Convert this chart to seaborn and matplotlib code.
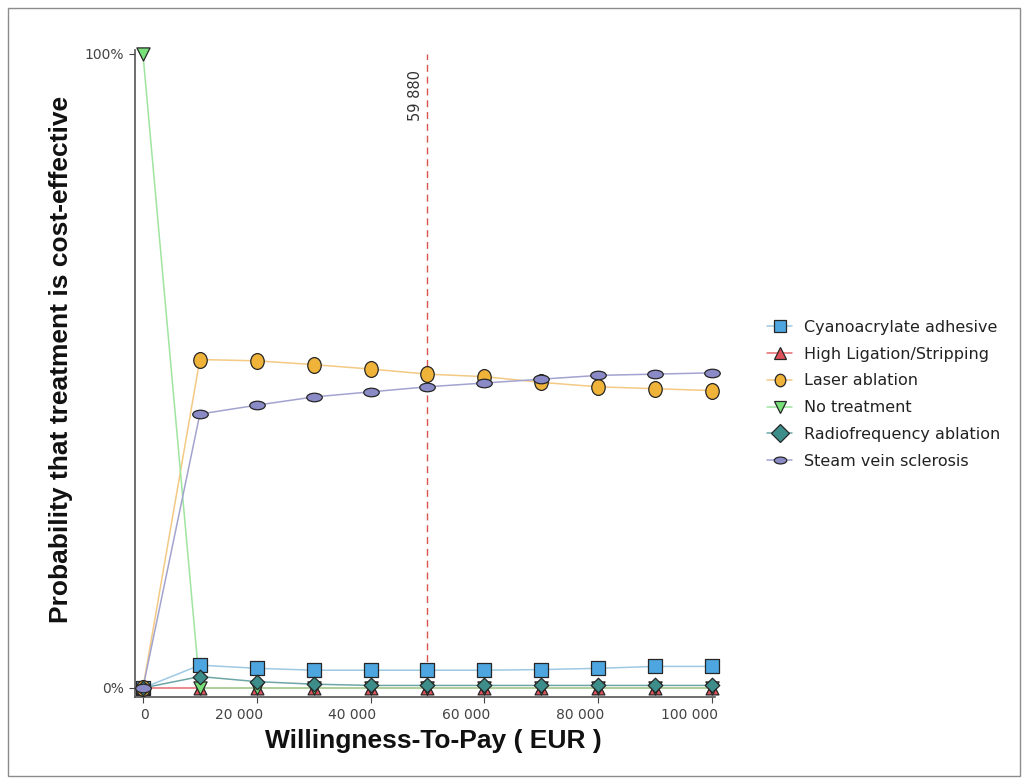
import matplotlib
matplotlib.use("Agg")
import matplotlib.pyplot as plt
import matplotlib.path as mpath
import matplotlib.transforms as mtransforms
from matplotlib.lines import Line2D
from matplotlib.patches import Rectangle
from matplotlib.ticker import FuncFormatter
import pandas as pd
import seaborn as sns

# willingness-to-pay grid (EUR)
wtp = [0, 10000, 20000, 30000, 40000, 50000, 60000, 70000, 80000, 90000, 100000]

treatments = ["Cyanoacrylate adhesive", "High Ligation/Stripping", "Laser ablation",
              "No treatment", "Radiofrequency ablation", "Steam vein sclerosis"]

# probability (%) that each treatment is cost-effective
cyanoacrylate = [0, 3.6, 3.1, 2.8, 2.8, 2.8, 2.8, 2.9, 3.1, 3.4, 3.4]
ligation = [0, 0, 0, 0, 0, 0, 0, 0, 0, 0, 0]
laser = [0, 51.8, 51.6, 51.0, 50.3, 49.5, 49.1, 48.2, 47.5, 47.2, 46.9]
no_treatment = [100, 0, 0, 0, 0, 0, 0, 0, 0, 0, 0]
radiofrequency = [0, 1.8, 1.0, 0.6, 0.4, 0.4, 0.4, 0.4, 0.4, 0.4, 0.4]
steam = [0, 43.2, 44.6, 45.9, 46.7, 47.5, 48.1, 48.7, 49.3, 49.5, 49.7]

threshold_x = 50000
threshold_label = "59 880"

x_ticks = [0, 20000, 40000, 60000, 80000, 100000]
y_ticks = [0, 100]

series = [cyanoacrylate, ligation, laser, no_treatment, radiofrequency, steam]
df = pd.concat([pd.DataFrame({"wtp": wtp, "prob": vals, "treatment": name})
                for name, vals in zip(treatments, series)], ignore_index=True)

line_colors = ["#9dc9e3", "#e66a6f", "#f3c984", "#9fe49f", "#6ea6a6", "#a3a3cf"]
fill_colors = ["#4da6df", "#e0505a", "#efb33a", "#78e078", "#3d8e8a", "#8a8ac6"]

circle = mpath.Path.unit_circle()
flat_ellipse = mpath.Path(circle.vertices * [1.0, 0.55], circle.codes)
tall_ellipse = mpath.Path(circle.vertices * [0.85, 1.0], circle.codes)
markers = ["s", "^", tall_ellipse, "v", "D", flat_ellipse]
sizes = [90, 85, 130, 90, 55, 125]

sns.set_theme(style="white")
plt.rcParams["font.family"] = ["DejaVu Sans"]

fig = plt.figure(figsize=(10.28, 7.84), dpi=100)
ax = fig.add_axes([0.1313, 0.111, 0.5642, 0.8253])

sns.lineplot(data=df, x="wtp", y="prob", hue="treatment", hue_order=treatments,
             palette=line_colors, estimator=None, linewidth=1.1, legend=False, ax=ax)

for name, fc, mk, sz in zip(treatments, fill_colors, markers, sizes):
    sns.scatterplot(data=df[df["treatment"] == name], x="wtp", y="prob",
                    color=fc, marker=mk, s=sz, edgecolor="#262626", linewidth=0.9,
                    legend=False, ax=ax, zorder=3, clip_on=False)

ax.set_xlim(-1400, 100530)
ax.set_ylim(-1.42, 100.63)

# cost-effectiveness threshold
ax.vlines(threshold_x, -1.42, 100, colors="#d9534f", linewidth=1,
          linestyles=(0, (5, 3.5)), zorder=2)
ax.text(threshold_x - 800, 97.5, threshold_label, rotation=90, ha="right", va="top",
        fontsize=10.5, color="#333333")

ax.set_xticks(x_ticks)
ax.set_yticks(y_ticks)
ax.xaxis.set_major_formatter(FuncFormatter(lambda v, p: f"{int(v):,}".replace(",", " ")))
ax.yaxis.set_major_formatter(FuncFormatter(lambda v, p: f"{int(v)}%"))
ax.tick_params(axis="both", labelsize=10, colors="#444444", length=4, width=0.8,
               direction="out", bottom=True, left=True, pad=4)

# x tick labels sit slightly left of their ticks, right-aligned
shift = mtransforms.ScaledTranslation(6 / 100, 0, fig.dpi_scale_trans)
for lbl in ax.get_xticklabels():
    lbl.set_horizontalalignment("right")
    lbl.set_transform(lbl.get_transform() + shift)

for side in ["top", "right"]:
    ax.spines[side].set_visible(False)
for side in ["left", "bottom"]:
    ax.spines[side].set_color("#555555")
    ax.spines[side].set_linewidth(1.2)

ax.set_xlabel("Willingness-To-Pay ( EUR )", fontsize=19, fontweight="bold",
              family=["Liberation Sans", "DejaVu Sans"], color="#111111")
ax.set_ylabel("Probability that treatment is cost-effective", fontsize=19,
              fontweight="bold", family=["Liberation Sans", "DejaVu Sans"], color="#111111")
ax.xaxis.set_label_coords(0.514, -0.049)
ax.yaxis.set_label_coords(-0.107, 0.522)

handles = [Line2D([0], [0], color=lc, lw=1.1, marker=mk, markerfacecolor=fc,
                  markeredgecolor="#262626", markeredgewidth=0.9, markersize=9)
           for lc, fc, mk in zip(line_colors, fill_colors, markers)]
fig.legend(handles, treatments, loc="center left", bbox_to_anchor=(0.732, 0.497),
           frameon=False, fontsize=11.5, labelcolor="#222222", labelspacing=0.74,
           handlelength=1.6, handletextpad=0.75)

fig.patches.append(Rectangle((8 / 1028, 8 / 784), 1012 / 1028, 768 / 784,
                             transform=fig.transFigure, fill=False,
                             edgecolor="#8c8c8c", linewidth=1))

fig.savefig("out.png", dpi=100)
